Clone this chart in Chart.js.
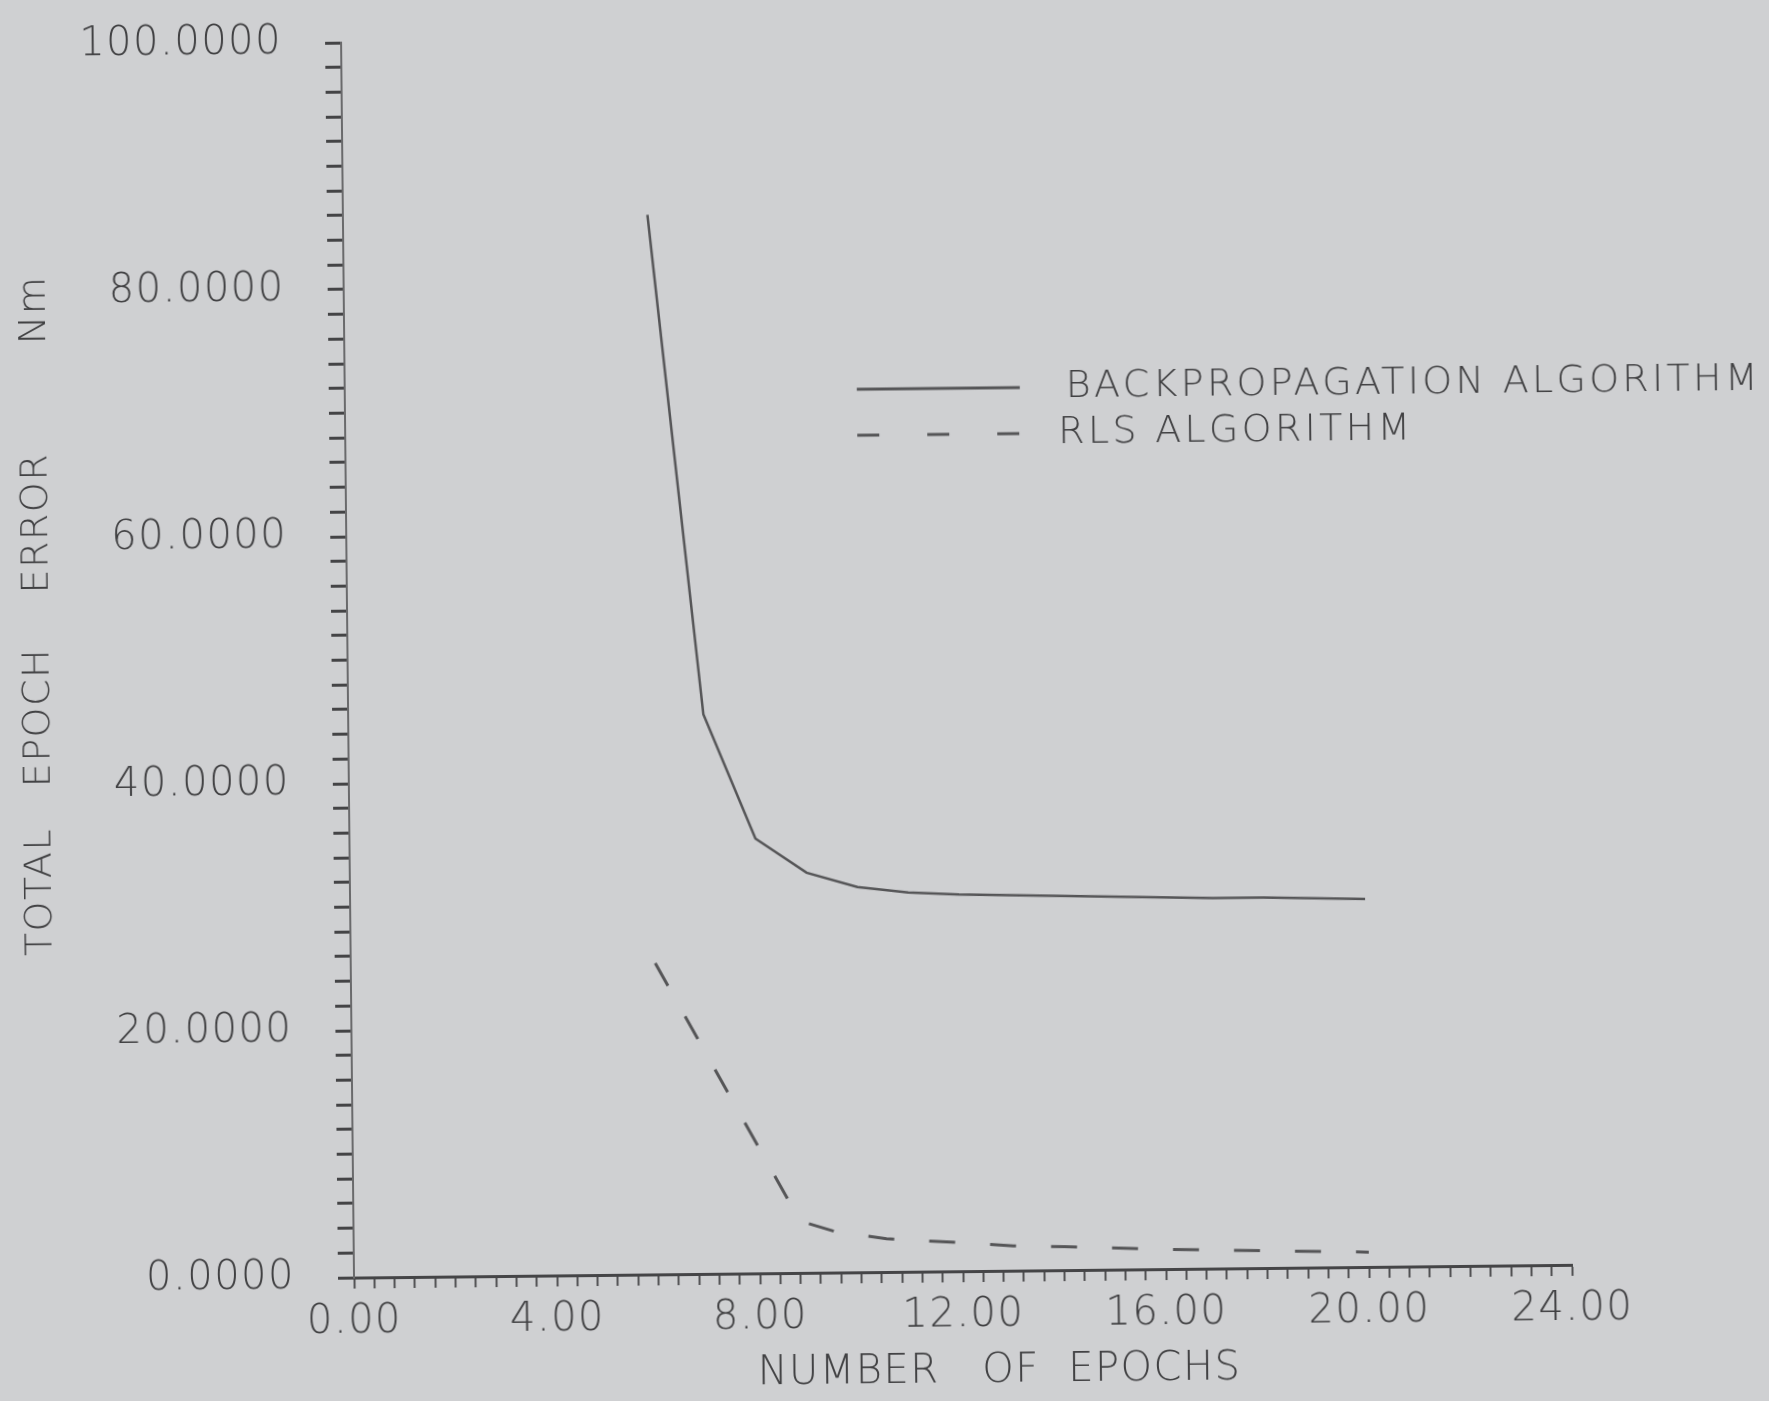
<!DOCTYPE html>
<html>
<head>
<meta charset="utf-8">
<script src="https://cdn.jsdelivr.net/npm/chart.js@4/dist/chart.umd.min.js"></script>
<style>
  html, body { margin: 0; padding: 0; background: #cfd0d2; overflow: hidden; }
  #sheet {
    position: absolute; left: 0; top: 0; width: 1769px; height: 1401px;
    transform: rotate(-0.6deg); transform-origin: 884.5px 700.5px;
  }
  canvas { display: block; }
</style>
</head>
<body>
<div id="sheet"><canvas id="errorChart" width="1769" height="1401"></canvas></div>
<script>
// Training error per epoch for the two learning rules
const bpEpochs  = [6, 7, 8, 9, 10, 11, 12, 13, 14, 15, 16, 17, 18, 19, 20];
const bpError   = [85.8, 45.3, 35.2, 32.4, 31.2, 30.7, 30.5, 30.4, 30.3, 30.2, 30.1, 30.0, 30.0, 29.9, 29.8];
const rlsEpochs = [6, 8.8, 9.5, 10.5, 12, 13, 14, 16, 18, 20];
const rlsError  = [25.2, 4.2, 3.3, 2.7, 2.3, 2.0, 1.9, 1.6, 1.4, 1.2];

const seriesNames = ['BACKPROPAGATION ALGORITHM', 'RLS ALGORITHM'];

// Labelled (major) ticks; unlabelled minor ticks fall in between
const xMajorTicks = [0, 4, 8, 12, 16, 20, 24];
const xTickLabels = ['0.00', '4.00', '8.00', '12.00', '16.00', '20.00', '24.00'];
const yMajorTicks = [0, 20, 40, 60, 80, 100];
const yTickLabels = ['0.0000', '20.0000', '40.0000', '60.0000', '80.0000', '100.0000'];

const xTitle = '     NUMBER   OF  EPOCHS';
const yTitle = '       TOTAL   EPOCH    ERROR        Nm';

const INK = '#404042';
const FONT = 'DejaVu Sans';
const WEIGHT = '200';

function labelFor(value, majors, labels) {
  const i = majors.findIndex(m => Math.abs(m - value) < 1e-6);
  return i >= 0 ? labels[i] : '';
}

// Plotter-style lettering: slightly widened character spacing
const spacingPlugin = {
  id: 'plotterSpacing',
  beforeLayout(chart) { chart.ctx.letterSpacing = '1.5px'; },
  beforeDraw(chart) { chart.ctx.letterSpacing = '1.5px'; }
};

// Key placed inside the plot, anchored in data coordinates
const insetKey = {
  id: 'insetKey',
  afterDraw(chart, args, opts) {
    const { ctx, scales: { x, y } } = chart;
    const x0 = x.getPixelForValue(opts.epoch);
    let yy = y.getPixelForValue(opts.error);
    ctx.save();
    chart.data.datasets.forEach((ds, i) => {
      ctx.strokeStyle = ds.borderColor;
      ctx.lineWidth = opts.sampleWidth;
      ctx.setLineDash(opts.sampleDash[i]);
      ctx.beginPath();
      ctx.moveTo(x0, yy);
      ctx.lineTo(x0 + opts.sampleLength, yy);
      ctx.stroke();
      ctx.setLineDash([]);
      ctx.font = opts.font;
      ctx.letterSpacing = opts.letterSpacing;
      ctx.fillStyle = opts.color;
      ctx.textAlign = 'left';
      ctx.textBaseline = 'middle';
      ctx.fillText(ds.label, x0 + opts.sampleLength + opts.gap[i], yy);
      yy += opts.rowHeight;
    });
    ctx.restore();
  }
};

const toPoints = (xs, ys) => xs.map((v, i) => ({ x: v, y: ys[i] }));

new Chart(document.getElementById('errorChart'), {
  type: 'line',
  data: {
    datasets: [
      {
        label: seriesNames[0],
        data: toPoints(bpEpochs, bpError),
        borderColor: '#555557',
        borderWidth: 2.5,
        pointRadius: 0,
        tension: 0,
        fill: false
      },
      {
        label: seriesNames[1],
        data: toPoints(rlsEpochs, rlsError),
        borderColor: '#555557',
        borderWidth: 3,
        borderDash: [26, 35],
        pointRadius: 0,
        tension: 0,
        fill: false
      }
    ]
  },
  options: {
    responsive: false,
    animation: false,
    events: [],
    layout: { autoPadding: false, padding: { left: 0, top: 37, right: 203, bottom: 0 } },
    plugins: {
      legend: { display: false },
      tooltip: { enabled: false },
      insetKey: {
        epoch: 10.09,
        error: 71.5,
        sampleLength: 163,
        sampleWidth: 3,
        gap: [46, 38],
        rowHeight: 46,
        sampleDash: [[], [22, 48]],
        font: `${WEIGHT} 38px "${FONT}"`,
        letterSpacing: '3.3px',
        color: INK
      }
    },
    scales: {
      x: {
        type: 'linear',
        min: 0,
        max: 24,
        border: { display: true, color: '#454547', width: 3 },
        grid: { display: true, drawOnChartArea: false, drawTicks: true, tickLength: 11, tickColor: '#505052', tickWidth: 2 },
        ticks: {
          stepSize: 0.4,
          autoSkip: false,
          maxRotation: 0,
          minRotation: 0,
          padding: 10,
          color: INK,
          font: { family: FONT, size: 40, weight: WEIGHT },
          callback: v => labelFor(v, xMajorTicks, xTickLabels)
        },
        title: {
          display: true,
          text: xTitle,
          color: INK,
          font: { family: FONT, size: 40, weight: WEIGHT },
          padding: { top: 0, bottom: 4 }
        },
        afterFit(scale) { scale.height = 129; }
      },
      y: {
        type: 'linear',
        min: 0,
        max: 100,
        border: { display: true, color: '#6a6a6c', width: 2 },
        grid: { display: true, drawOnChartArea: false, drawTicks: true, tickLength: 16, tickColor: '#444446', tickWidth: 3 },
        ticks: {
          stepSize: 2,
          autoSkip: false,
          padding: 43,
          color: INK,
          font: { family: FONT, size: 40, weight: WEIGHT },
          callback: v => labelFor(v, yMajorTicks, yTickLabels)
        },
        title: {
          display: true,
          text: yTitle,
          color: INK,
          font: { family: FONT, size: 38, weight: WEIGHT },
          padding: { top: 16, bottom: 0 }
        },
        afterFit(scale) {
          scale.width = 348;
          // the end labels sit inside the page margin; no extra inset needed
          scale.paddingTop = 0;
          scale.paddingBottom = 0;
        }
      }
    }
  },
  plugins: [spacingPlugin, insetKey]
});
</script>
</body>
</html>
